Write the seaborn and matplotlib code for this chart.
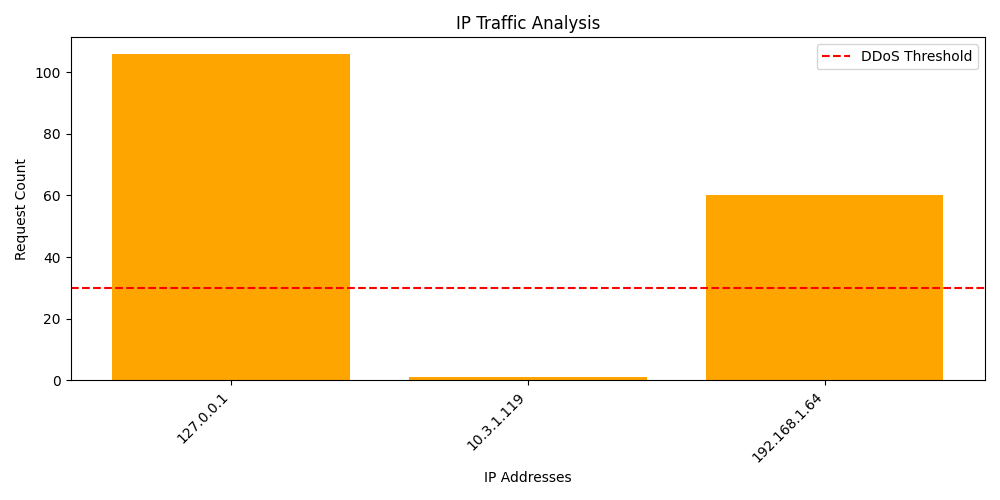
import matplotlib
matplotlib.use("Agg")
import matplotlib.pyplot as plt
import seaborn as sns
import pandas as pd

# data
ip_addresses = ["127.0.0.1", "10.3.1.119", "192.168.1.64"]
request_counts = [106, 1, 60]
ddos_threshold = 30

df = pd.DataFrame({"ip": ip_addresses, "count": request_counts})

fig, ax = plt.subplots(figsize=(10, 5), dpi=100)
sns.barplot(data=df, x="ip", y="count", color="orange", saturation=1, width=0.8, ax=ax)
ax.axhline(y=ddos_threshold, color="red", linestyle="--", label="DDoS Threshold")
# matplotlib-style 5% margins instead of seaborn's categorical limits
ax.set_xlim(-0.4 - 0.14, 2.4 + 0.14)
ax.set_title("IP Traffic Analysis")
ax.set_xlabel("IP Addresses")
ax.set_ylabel("Request Count")
plt.xticks(rotation=45, ha="right")
ax.legend()
plt.tight_layout()
plt.savefig("out.png")
